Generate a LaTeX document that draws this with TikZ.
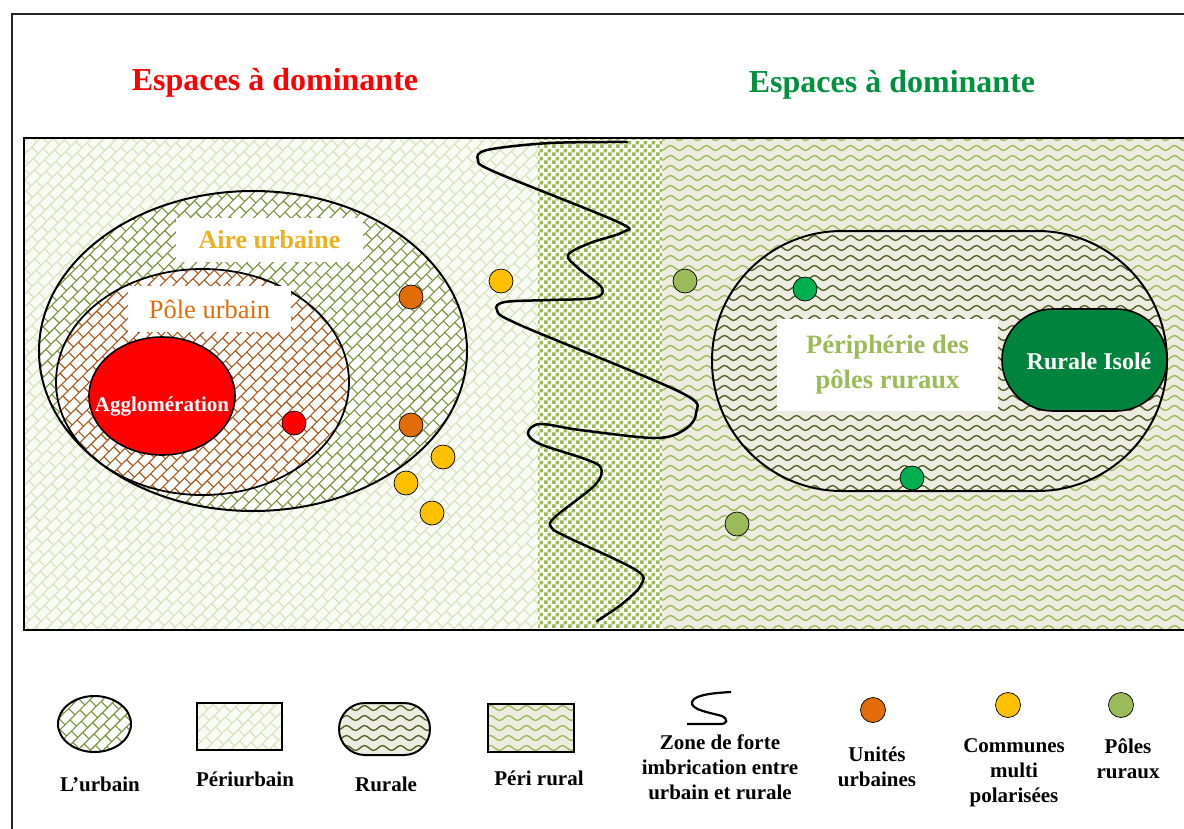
\documentclass[tikz,border=0pt]{standalone}
\usepackage{fontspec}
\setmainfont{Liberation Serif}
\usetikzlibrary{patterns.meta}

\definecolor{periBg}{HTML}{F9FAF4}
\definecolor{periLine}{HTML}{D6E3BC}
\definecolor{urbLine}{HTML}{77933C}
\definecolor{poleLine}{HTML}{A8561C}
\definecolor{checkGreen}{HTML}{9BBB59}
\definecolor{beigeBg}{HTML}{EEECE1}
\definecolor{waveLight}{HTML}{9BBB59}
\definecolor{waveDark}{HTML}{4F6228}
\definecolor{ruralIso}{HTML}{00843D}
\definecolor{orangeDot}{HTML}{E36C09}
\definecolor{yellowDot}{HTML}{FFC000}
\definecolor{oliveDot}{HTML}{9BBB59}
\definecolor{greenDot}{HTML}{00B050}
\definecolor{titleGreen}{HTML}{00913F}
\definecolor{aireTxt}{HTML}{EDB120}
\definecolor{poleTxt}{HTML}{E36C09}
\definecolor{periTxt}{HTML}{9BBB59}

\tikzdeclarepattern{
  name=dbrick, type=uncolored,
  bounding box={(-1pt,-1pt) and (15pt,19pt)},
  tile size={(14pt,18pt)},
  tile transformation={rotate=45},
  code={
    \draw[line width=1.1pt] (0pt,0pt) -- (14pt,0pt) (0pt,9pt) -- (14pt,9pt)
      (0pt,0pt) -- (0pt,9pt) (7pt,9pt) -- (7pt,18pt);
  }
}
\tikzdeclarepattern{
  name=wave, type=uncolored,
  bounding box={(-1pt,-4pt) and (19pt,4pt)},
  tile size={(18pt,10pt)},
  code={
    \draw[line width=1.4pt] (0pt,0pt) sin (4.5pt,2.4pt) cos (9pt,0pt) sin (13.5pt,-2.4pt) cos (18pt,0pt);
  }
}
\tikzdeclarepattern{
  name=checks, type=uncolored,
  bounding box={(0pt,0pt) and (8pt,8pt)},
  tile size={(8pt,8pt)},
  code={
    \fill (0pt,0pt) rectangle (4pt,4pt) (4pt,4pt) rectangle (8pt,8pt);
  }
}

\begin{document}
\begin{tikzpicture}[x=1pt,y=-1pt,
  ttl/.style={font=\fontsize{32}{38}\selectfont\bfseries},
  lbl/.style={font=\fontsize{21}{25}\selectfont\bfseries, align=center, text=black},
  dot/.style={circle, draw=black, line width=0.7pt, minimum size=24pt, inner sep=0pt},
  ldot/.style={dot, minimum size=25pt},
  wbox/.style={fill=white, inner sep=0pt},
  urbfill/.style={preaction={fill=white}, pattern=dbrick, pattern color=urbLine},
  perifill/.style={preaction={fill=periBg}, pattern=dbrick, pattern color=periLine},
  polefill/.style={preaction={fill=white}, pattern=dbrick, pattern color=poleLine},
  checkfill/.style={preaction={fill=white}, pattern=checks, pattern color=checkGreen},
  perirurfill/.style={preaction={fill=beigeBg}, pattern=wave, pattern color=waveLight},
  rurfill/.style={preaction={fill=beigeBg}, pattern=wave, pattern color=waveDark},
]
\useasboundingbox (0,0) rectangle (1184,828);
\fill[white] (0,0) rectangle (1184,828);
\clip (0,0) rectangle (1184,828);

% outer frame
\draw[line width=1.8pt, black!85] (12,14) rectangle (1210,860);

% titles
\node[ttl, text=red] (t1) at (275,83) {Espaces à dominante};
\node[ttl, text=titleGreen] (t2) at (892,85) {Espaces à dominante};

% background regions
\path[perifill] (24,138) rectangle (538,630);
\path[checkfill] (538,138) rectangle (662,630);
\path[perirurfill] (662,138) rectangle (1210,630);
\draw[line width=1.6pt] (24,138) rectangle (1210,630);

% urban ellipses
\draw[urbfill, line width=2pt] (253,351) ellipse [x radius=214, y radius=160];
\draw[polefill, line width=1.8pt] (202.5,382) ellipse [x radius=146.5, y radius=113];
\draw[fill=red, line width=1.6pt] (162,396) ellipse [x radius=73, y radius=59];
\node[font=\fontsize{21}{25}\selectfont\bfseries, text=white] (agg) at (162,407) {Agglomération};

\node[wbox, minimum width=187pt, minimum height=44pt, font=\fontsize{26}{30}\selectfont\bfseries, text=aireTxt] (aire) at (269.5,240) {Aire urbaine};
\node[wbox, minimum width=163pt, minimum height=46pt, font=\fontsize{26.5}{30}\selectfont, text=poleTxt] (pole) at (209.5,309) {Pôle urbain};

% rural stadium
\draw[rurfill, line width=2pt, rounded corners=129.9pt] (712,231) rectangle (1167,491);
\draw[fill=ruralIso, line width=1.6pt, rounded corners=50.9pt] (1002,309) rectangle (1167,411);
\node[font=\fontsize{24}{28}\selectfont\bfseries, text=white] (iso) at (1089,361) {Rurale Isolé};
\node[wbox, minimum width=221pt, minimum height=92pt, align=center, font=\fontsize{26.5}{35}\selectfont\bfseries, text=periTxt] (peri) at (887.5,365) {Périphérie des\\pôles ruraux};

% squiggle
\draw[line width=2.5pt, line cap=round] plot[smooth, tension=0.55] coordinates {
 (627,142) (550,143) (487,150) (478,160) (495,172) (618,222) (623,232) (590,243)
 (568,255) (578,268) (602,288) (594,298) (550,300) (505,302) (497,310) (520,325)
 (680,392) (696,413) (684,430) (655,438) (580,430) (540,424) (528,433) (540,444)
 (585,459) (601,468) (595,485) (555,517) (551,527) (565,536) (636,570) (641,585)
 (622,604) (597,621)};

% dots
\node[dot, fill=red] (d0) at (294,423) {};
\node[dot, fill=orangeDot] (d1) at (411,297) {};
\node[dot, fill=orangeDot] (d2) at (411,425) {};
\node[dot, fill=yellowDot] (d3) at (443,457) {};
\node[dot, fill=yellowDot] (d4) at (406,483) {};
\node[dot, fill=yellowDot] (d5) at (432,513) {};
\node[dot, fill=yellowDot] (d6) at (501,281) {};
\node[dot, fill=oliveDot] (d7) at (685,281) {};
\node[dot, fill=oliveDot] (d8) at (737,524) {};
\node[dot, fill=greenDot] (d9) at (805,289) {};
\node[dot, fill=greenDot] (d10) at (912,478) {};

% legend
\draw[urbfill, line width=2pt] (94.5,724) ellipse [x radius=36.5, y radius=28];
\draw[perifill, line width=1.5pt] (197,703) rectangle (282,750);
\draw[rurfill, line width=2pt, rounded corners=25.9pt] (339,703) rectangle (430,755);
\draw[perirurfill, line width=1.5pt] (488,704) rectangle (574,752);
\draw[line width=2.2pt] (731,692) .. controls (712,693) and (694,695) .. (692,702)
  .. controls (690,710) and (712,713) .. (722,716)
  .. controls (728,719) and (728,724) .. (720,724) -- (687,724);
\node[ldot, fill=orangeDot] (l1) at (873,710) {};
\node[ldot, fill=yellowDot] (l2) at (1008,705) {};
\node[ldot, fill=oliveDot] (l3) at (1121,705) {};

\node[lbl] (lt1) at (100,784) {L’urbain};
\node[lbl] (lt2) at (245,779) {Périurbain};
\node[lbl] (lt3) at (386,784) {Rurale};
\node[lbl] (lt4) at (539,778) {Péri rural};
\node[lbl] (lt5) at (720,767) {Zone de forte\\imbrication entre\\urbain et rurale};
\node[lbl] (lt6) at (877,767) {Unités\\urbaines};
\node[lbl] (lt7) at (1014,773) {Communes\\multi\\polarisées};
\node[lbl] (lt8) at (1128,759) {Pôles\\ruraux};
\end{tikzpicture}
\end{document}
